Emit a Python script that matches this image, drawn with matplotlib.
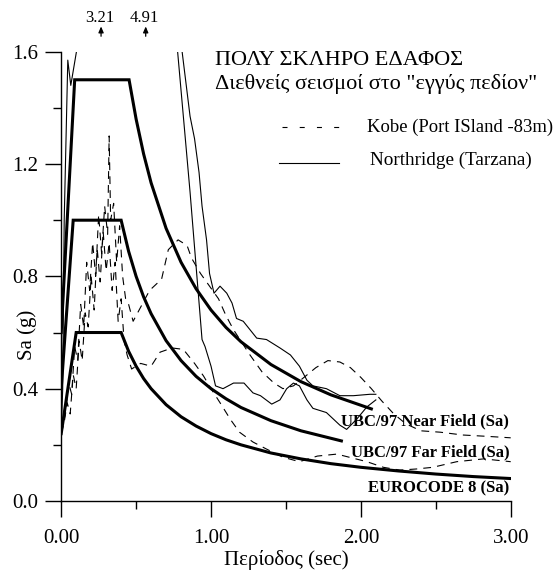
import matplotlib
matplotlib.use("Agg")
import matplotlib.pyplot as plt
from matplotlib.lines import Line2D

plt.rcParams['font.family'] = ['Liberation Serif', 'DejaVu Serif']

# ---------------- data ----------------
# Code spectra
ec8_T  = [0.0, 0.10, 0.40, 0.45, 0.50, 0.55, 0.60, 0.70, 0.80, 0.90, 1.00, 1.10, 1.20, 1.40,
          1.60, 1.80, 2.00, 2.25, 2.50, 2.75, 3.00]
ec8_Sa = [0.24, 0.60, 0.60, 0.533, 0.48, 0.436, 0.40, 0.343, 0.30, 0.267, 0.24, 0.218, 0.20,
          0.171, 0.15, 0.133, 0.12, 0.107, 0.096, 0.087, 0.08]

far_T  = [0.0, 0.08, 0.40, 0.45, 0.50, 0.55, 0.60, 0.70, 0.80, 0.90, 1.00, 1.10, 1.20, 1.40,
          1.60, 1.87]
far_Sa = [0.40, 1.00, 1.00, 0.889, 0.80, 0.727, 0.667, 0.571, 0.50, 0.444, 0.40, 0.364, 0.333,
          0.286, 0.25, 0.214]

near_T  = [0.0, 0.09, 0.453, 0.50, 0.55, 0.60, 0.70, 0.80, 0.90, 1.00, 1.10, 1.20, 1.40, 1.60,
           1.80, 2.07]
near_Sa = [0.60, 1.50, 1.50, 1.36, 1.236, 1.133, 0.971, 0.85, 0.756, 0.68, 0.618, 0.567, 0.486,
           0.425, 0.378, 0.328]

# Kobe (Port Island -83m), two components
kobe1_T  = [0.0, 0.03, 0.05, 0.07, 0.09, 0.11, 0.13, 0.15, 0.17, 0.19, 0.21, 0.23, 0.25, 0.27,
            0.29, 0.31, 0.32, 0.33, 0.35, 0.37, 0.39, 0.41, 0.43, 0.45, 0.48, 0.53, 0.59, 0.67,
            0.715, 0.78, 0.84, 0.87, 0.93, 0.99, 1.05, 1.10, 1.15, 1.26, 1.34, 1.42, 1.48, 1.55,
            1.62, 1.70, 1.78, 1.86, 1.93, 2.00, 2.07, 2.14, 2.22, 2.30, 2.40, 2.53, 2.68, 2.85, 3.00]
kobe1_Sa = [0.24, 0.32, 0.42, 0.38, 0.55, 0.50, 0.70, 0.62, 0.85, 0.75, 0.92, 0.80, 1.02, 0.88,
            1.05, 0.95, 1.30, 1.00, 1.06, 0.85, 0.98, 0.80, 0.72, 0.70, 0.64, 0.69, 0.75, 0.79,
            0.895, 0.93, 0.91, 0.865, 0.81, 0.765, 0.72, 0.66, 0.61, 0.52, 0.46, 0.42, 0.40, 0.41,
            0.44, 0.475, 0.50, 0.495, 0.475, 0.44, 0.40, 0.356, 0.31, 0.275, 0.25, 0.245, 0.235,
            0.23, 0.225]

kobe2_T  = [0.0, 0.02, 0.04, 0.06, 0.08, 0.10, 0.12, 0.14, 0.16, 0.18, 0.20, 0.22, 0.24, 0.26,
            0.28, 0.30, 0.32, 0.34, 0.36, 0.38, 0.40, 0.42, 0.44, 0.47, 0.53, 0.60, 0.66, 0.74,
            0.815, 0.89, 0.95, 1.00, 1.06, 1.13, 1.19, 1.28, 1.37, 1.48, 1.59, 1.71, 1.84, 2.04,
            2.15, 2.26, 2.37, 2.48, 2.64, 2.82, 3.00]
kobe2_Sa = [0.24, 0.28, 0.35, 0.31, 0.45, 0.40, 0.57, 0.50, 0.67, 0.62, 0.80, 0.68, 0.90, 0.78,
            0.96, 0.82, 0.92, 0.75, 0.85, 0.64, 0.72, 0.57, 0.52, 0.47, 0.49, 0.48, 0.53, 0.545,
            0.54, 0.49, 0.445, 0.40, 0.35, 0.29, 0.245, 0.21, 0.185, 0.156, 0.14, 0.16, 0.167,
            0.14, 0.12, 0.11, 0.114, 0.12, 0.14, 0.15, 0.14]

# Northridge (Tarzana), two components (peaks 4.91 g and 3.21 g are off scale)
nrA_T  = [0.0, 0.01, 0.02, 0.044, 0.064, 0.108, 0.13, 0.30, 0.56, 0.70, 0.807, 0.86, 0.89, 0.92,
          0.94, 0.97, 0.99, 1.02, 1.06, 1.105, 1.14, 1.17, 1.215, 1.26, 1.305, 1.37, 1.46, 1.53,
          1.59, 1.64, 1.68, 1.77, 1.86, 1.95, 2.06, 2.10]
nrA_Sa = [0.24, 0.40, 1.00, 1.57, 1.48, 1.62, 1.90, 3.80, 4.91, 3.00, 1.60, 1.37, 1.29, 1.17,
          1.05, 0.93, 0.81, 0.74, 0.765, 0.74, 0.705, 0.65, 0.64, 0.61, 0.58, 0.575, 0.545, 0.52,
          0.48, 0.43, 0.41, 0.40, 0.375, 0.375, 0.38, 0.38]

nrB_T  = [0.0, 0.27, 0.60, 0.777, 0.86, 0.94, 0.96, 1.00, 1.03, 1.08, 1.15, 1.22, 1.28, 1.33,
          1.405, 1.46, 1.505, 1.55, 1.59, 1.64, 1.68, 1.77, 1.86, 1.905, 1.97, 2.04, 2.10]
nrB_Sa = [1.78, 3.21, 2.40, 1.60, 1.10, 0.575, 0.55, 0.48, 0.41, 0.40, 0.42, 0.42, 0.385, 0.375,
          0.345, 0.36, 0.40, 0.42, 0.41, 0.36, 0.33, 0.315, 0.27, 0.255, 0.29, 0.335, 0.36]

peak_T = [0.266, 0.564]
peak_labels = ["3.21", "4.91"]

code_labels = ["UBC/97 Near Field (Sa)", "UBC/97 Far Field (Sa)", "EUROCODE 8 (Sa)"]
code_label_Sa = [0.27, 0.158, 0.03]

title1 = "ΠΟΛΥ ΣΚΛΗΡΟ ΕΔΑΦΟΣ"
title2 = 'Διεθνείς σεισμοί στο "εγγύς πεδίον"'
legend_labels = ["Kobe (Port ISland -83m)", "Northridge (Tarzana)"]

xticks_major = [0, 1, 2, 3]
xtick_labels = ["0.00", "1.00", "2.00", "3.00"]
xticks_minor = [0.5, 1.5, 2.5]
yticks_major = [0.0, 0.4, 0.8, 1.2, 1.6]
ytick_labels = ["0.0", "0.4", "0.8", "1.2", "1.6"]
yticks_minor = [0.2, 0.6, 1.0, 1.4]

# ---------------- figure ----------------
W, H = 558, 574
fig = plt.figure(figsize=(W / 100, H / 100), dpi=100)
x0, x1, ytop, ybot = 61.2, 510.7, 51.7, 501.0
ax = fig.add_axes([x0 / W, (H - ybot) / H, (x1 - x0) / W, (ybot - ytop) / H])
ax.set_xlim(0, 3)
ax.set_ylim(0, 1.6)

thick = 2.2
thin = 0.8
dash = (0, (7, 5.5))
legend_dash = (0, (4.5, 11))

ax.plot(near_T, near_Sa, color='black', lw=thick, solid_joinstyle='miter')
ax.plot(far_T, far_Sa, color='black', lw=thick, solid_joinstyle='miter')
ax.plot(ec8_T, ec8_Sa, color='black', lw=thick, solid_joinstyle='miter')

ax.plot(kobe1_T, kobe1_Sa, color='black', lw=thin, linestyle=dash)
ax.plot(kobe2_T, kobe2_Sa, color='black', lw=thin, linestyle=dash)
ax.plot(nrA_T, nrA_Sa, color='black', lw=thin)
ax.plot(nrB_T, nrB_Sa, color='black', lw=thin)

for s in ['top', 'right']:
    ax.spines[s].set_visible(False)
for s in ['left', 'bottom']:
    ax.spines[s].set_linewidth(1.0)

ax.set_xticks(xticks_major)
ax.set_xticklabels(xtick_labels)
ax.set_xticks(xticks_minor, minor=True)
ax.set_yticks(yticks_major)
ax.set_yticklabels(ytick_labels)
ax.set_yticks(yticks_minor, minor=True)
ax.tick_params(axis='both', which='major', direction='out', length=11.5, width=1.0,
               labelsize=15)
ax.tick_params(axis='both', which='minor', direction='out', length=5.5, width=1.0)
ax.tick_params(axis='x', which='major', pad=9)
ax.tick_params(axis='y', which='major', pad=5)

ax.set_xlabel("Περίοδος (sec)", fontsize=15, labelpad=1)
ax.set_ylabel("Sa (g)", fontsize=15)
ax.yaxis.label.set_verticalalignment('center')
ax.yaxis.set_label_coords((27 - x0) / (x1 - x0), (ybot - 335) / (ybot - ytop))

# code labels
for lab, sa in zip(code_labels, code_label_Sa):
    ax.text(2.99, sa, lab, ha='right', va='baseline', fontsize=12, fontweight='bold')

# off-scale peak annotations
for t, lab in zip(peak_T, peak_labels):
    ax.annotate('', xy=(t, 1.69), xytext=(t, 1.655), xycoords='data',
                arrowprops=dict(arrowstyle='-|>,head_length=0.35,head_width=0.15',
                                color='black', lw=0.9, shrinkA=0, shrinkB=0),
                annotation_clip=False)
    ax.text(t - 0.01, 1.72, lab, ha='center', va='center', fontsize=12, clip_on=False)

# title block
fig.text(215 / W, 1 - 65 / H, title1, fontsize=16, va='baseline', ha='left')
fig.text(215 / W, 1 - 89.3 / H, title2, fontsize=16, va='baseline', ha='left')

# legend (drawn manually)
fig.add_artist(Line2D([282 / W, 340 / W], [1 - 127 / H, 1 - 127 / H], color='black',
                      lw=thin, linestyle=legend_dash))
fig.add_artist(Line2D([279 / W, 339 / W], [1 - 163 / H, 1 - 163 / H], color='black',
                      lw=thin))
fig.text(367 / W, 1 - 131.7 / H, legend_labels[0], fontsize=13.4, va='baseline', ha='left')
fig.text(370 / W, 1 - 165 / H, legend_labels[1], fontsize=13.8, va='baseline', ha='left')

fig.savefig("out.png", dpi=100)
